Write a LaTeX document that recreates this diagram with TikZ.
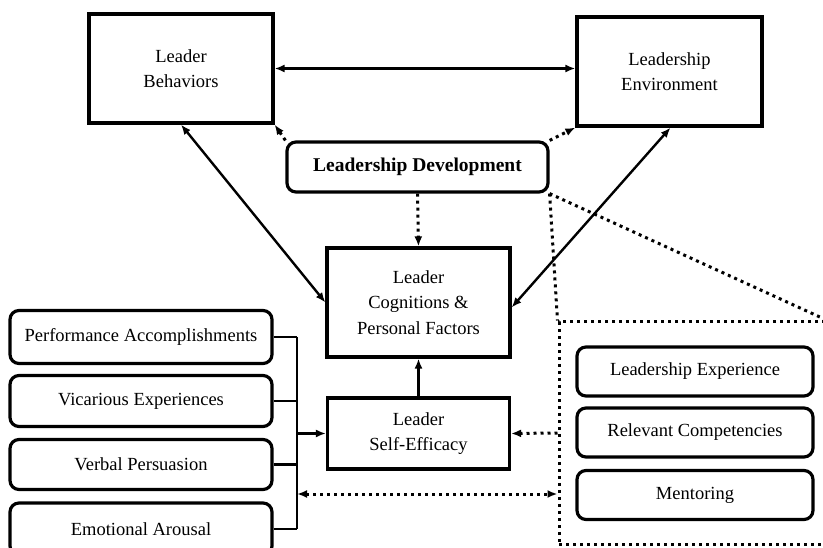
\documentclass[tikz,border=0pt]{standalone}
\usepackage{fontspec}
\setmainfont{Liberation Serif}
\usetikzlibrary{arrows.meta}

\tikzset{
    sqbox/.style={draw, line width=3.2pt, align=center, inner sep=0pt},
    rbox/.style={draw, line width=3.2pt, rounded corners=9pt, align=center, inner sep=0pt},
    link/.style={line width=2.4pt, -{Latex[length=10pt,width=8pt]}},
    bilink/.style={line width=2.4pt, {Latex[length=10pt,width=8pt]}-{Latex[length=10pt,width=8pt]}},
    dotlink/.style={line width=3pt, dash pattern=on 3pt off 4pt, -{Latex[length=10pt,width=8pt]}},
    dotline/.style={line width=3pt, dash pattern=on 3pt off 4pt}
}

\begin{document}
\begin{tikzpicture}[x=1pt, y=-1pt, font=\fontsize{18.5}{25.5}\selectfont]
        \clip (0, 0) rectangle (823, 548);
        \fill[white] (0, 0) rectangle (823, 548);

        % top row
        \node[sqbox, minimum width=184, minimum height=109] (lb) at (181, 68.5) {Leader\\Behaviors};
        \node[sqbox, minimum width=185, minimum height=109] (le) at (669.5, 71.5) {Leadership\\Environment};
        \node[rbox, minimum width=261, minimum height=50, font=\fontsize{19.5}{24}\selectfont\bfseries] (ld) at (417.5, 167) {Leadership Development};

        % middle column
        \node[sqbox, minimum width=183, minimum height=109] (lc) at (418.5, 302.5) {Leader\\Cognitions \&\\Personal Factors};
        \node[sqbox, minimum width=182, minimum height=71] (lse) at (418.5, 433.5) {Leader\\Self-Efficacy};

        % sources of efficacy
        \node[rbox, minimum width=262, minimum height=53] (pa) at (141, 337) {Performance Accomplishments};
        \node[rbox, minimum width=262, minimum height=51] (ve) at (141, 401) {Vicarious Experiences};
        \node[rbox, minimum width=262, minimum height=50] (vp) at (141, 464.5) {Verbal Persuasion};
        \node[rbox, minimum width=262, minimum height=52] (ea) at (141, 529) {Emotional Arousal};

        % development frame
        \node[dotline, draw, minimum width=267, minimum height=222] (fr) at (692.5, 433) {};
        \node[rbox, minimum width=236, minimum height=49] (lx) at (695, 371.5) {Leadership Experience};
        \node[rbox, minimum width=236, minimum height=49] (rc) at (695, 432.5) {Relevant Competencies};
        \node[rbox, minimum width=236, minimum height=49] (mt) at (695, 495) {Mentoring};

        \coordinate (bus) at (297, 494);

        % solid links
        \draw[bilink] (lb.east) -- (lb.east -| le.west);
        \draw[bilink] (lb.south) -- (lc.west);
        \draw[bilink] ([xshift=1pt]le.south) -- ([yshift=-5pt]lc.east);
        \draw[link] (lse.north) -- (lc.south);

        \foreach \n in {pa,ve,vp,ea}
            \draw[line width=2.4pt] (\n.east) -- (\n.east -| bus);
        \draw[line width=2.4pt] (pa.east -| bus) -- (ea.east -| bus);
        \draw[link] (bus |- lse.west) -- (lse.west);

        % dotted links
        \draw[dotlink] (ld.north west) -- (lb.south east);
        \draw[dotlink] (ld.north east) -- (le.south west);
        \draw[dotlink] (ld.south) -- (lc.north);
        \draw[dotline] (ld.south east) -- (fr.north west);
        \draw[dotline] (ld.south east) -- (fr.north east);
        \draw[dotlink] (fr.west) -- (lse.east);
        \draw[dotlink, {Latex[length=10pt,width=8pt]}-{Latex[length=10pt,width=8pt]}] (bus) -- (bus -| fr.west);

    \end{tikzpicture}
\end{document}
